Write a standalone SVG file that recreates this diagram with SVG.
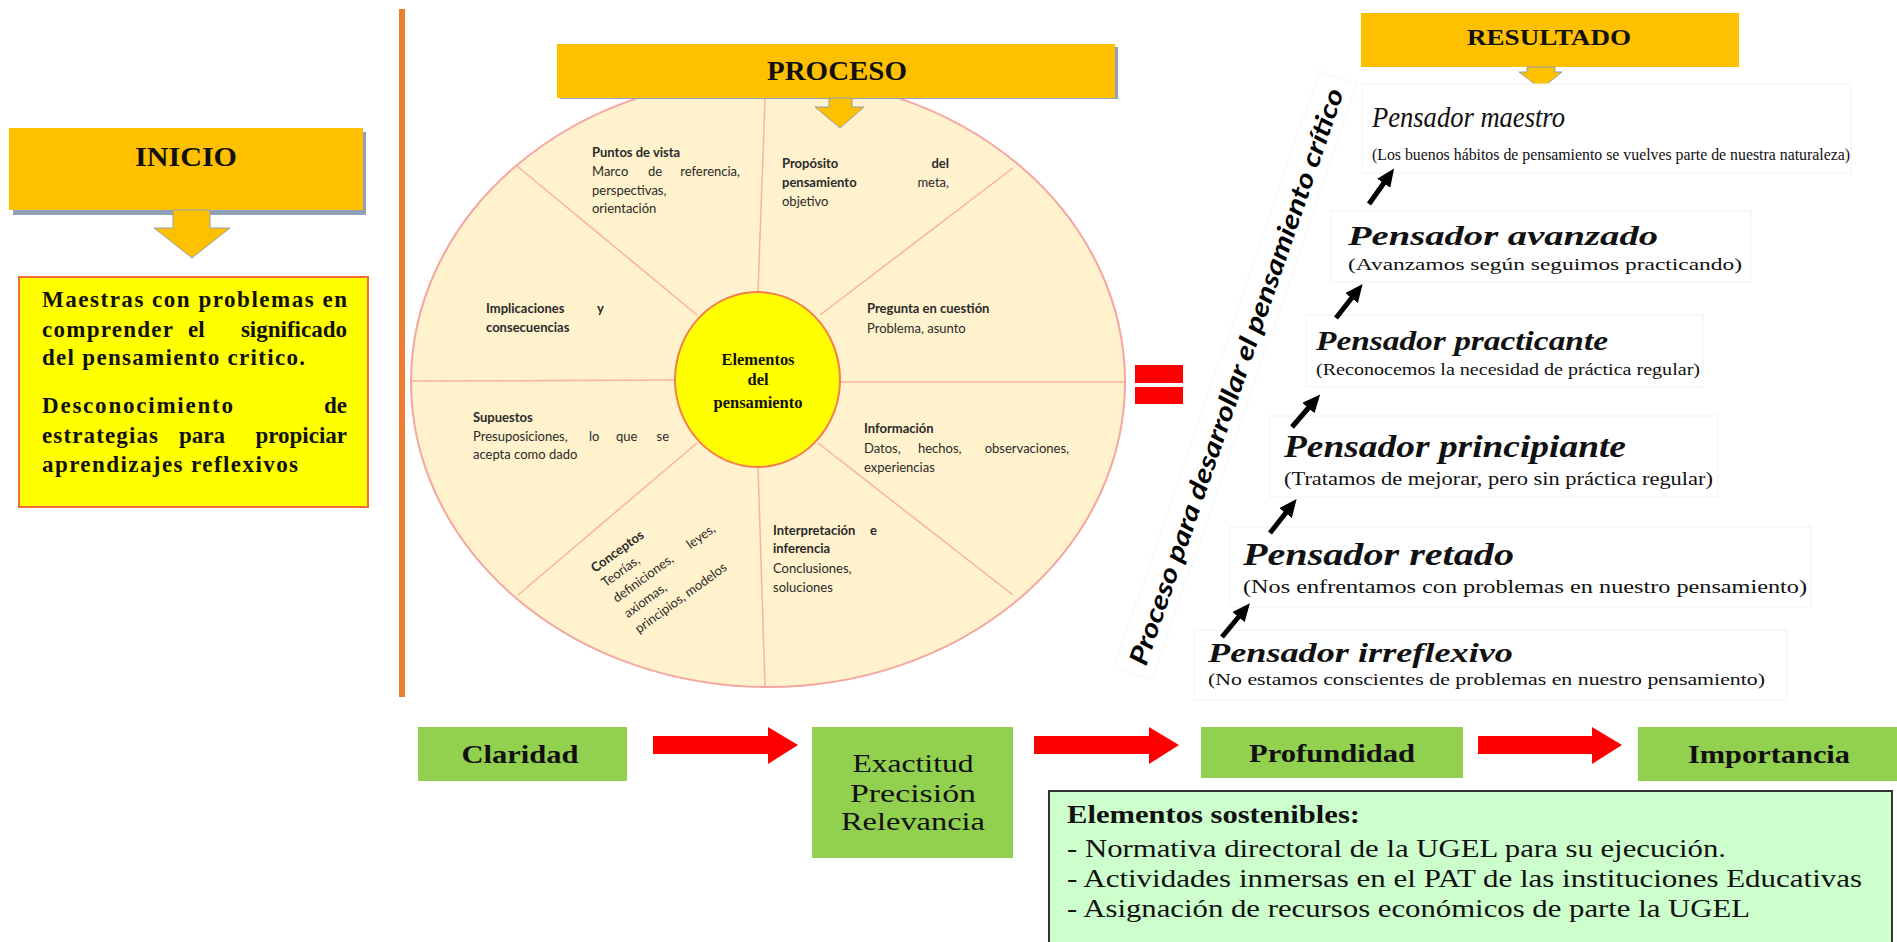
<svg xmlns="http://www.w3.org/2000/svg" width="1897" height="942" viewBox="0 0 1897 942">
<defs>
<style>
.hdr{fill:#FFC000}
.shd{fill:#8FA0B8}
.grn{fill:#92D050}
.ser{font-family:"Liberation Serif","Times New Roman",serif;fill:#111}
.b{font-weight:bold}
.it{font-style:italic}
.seg{font-family:Lato,"Open Sans",sans-serif;font-size:13px;fill:#2a2a2a}
.spoke{stroke:#F7B49C;stroke-width:1.5;fill:none}
.faint{fill:#fff;stroke:#F1F1F1;stroke-width:1}
.red{fill:#FF0000}
.blk{stroke:#000;stroke-width:5;fill:none;marker-end:url(#ah)}
</style>
<marker id="ah" markerUnits="userSpaceOnUse" markerWidth="18" markerHeight="16" refX="4" refY="8" orient="auto">
<path d="M0,0 L18,8 L0,16 Z" fill="#000"/>
</marker>
</defs>
<rect width="1897" height="942" fill="#fff"/>

<line x1="402" y1="9" x2="402" y2="697" stroke="#ED7D31" stroke-width="6"/>

<g id="inicio">
<rect x="13" y="132" width="353" height="83" class="shd"/>
<rect x="9" y="128" width="354" height="82" class="hdr"/>
<path d="M173,210 V228 H154 L192,258 L230,228 H210 V210 Z" class="hdr" stroke="#8FA0B8" stroke-width="1"/>
<text x="186" y="166" class="ser b" font-size="28" text-anchor="middle" textLength="102" lengthAdjust="spacingAndGlyphs">INICIO</text>
</g>

<g id="problema">
<rect x="19" y="277" width="349" height="230" fill="#FFFF00" stroke="#F26B3A" stroke-width="2"/>
<g class="ser b" font-size="23">
<text x="42" y="307" textLength="305" lengthAdjust="spacing">Maestras con problemas en</text>
<text x="42" y="337" textLength="131" lengthAdjust="spacing">comprender</text>
<text x="188" y="337">el</text>
<text x="347" y="337" text-anchor="end">significado</text>
<text x="42" y="365" textLength="263" lengthAdjust="spacing">del pensamiento critico.</text>
<text x="42" y="413" textLength="191" lengthAdjust="spacing">Desconocimiento</text>
<text x="347" y="413" text-anchor="end">de</text>
<text x="42" y="443" textLength="116" lengthAdjust="spacing">estrategias</text>
<text x="179" y="443">para</text>
<text x="347" y="443" text-anchor="end">propiciar</text>
<text x="42" y="472" textLength="256" lengthAdjust="spacing">aprendizajes reflexivos</text>
</g>
</g>

<g id="rueda">
<ellipse cx="768" cy="382" rx="357" ry="305" fill="#FFF2CC" stroke="#F4A6A0" stroke-width="2"/>
<line x1="765" y1="99" x2="758" y2="292" class="spoke"/>
<line x1="517" y1="166" x2="697" y2="315" class="spoke"/>
<line x1="1013" y1="168" x2="820" y2="315" class="spoke"/>
<line x1="412" y1="381" x2="676" y2="380" class="spoke"/>
<line x1="839" y1="382" x2="1124" y2="382" class="spoke"/>
<line x1="697" y1="443" x2="518" y2="595" class="spoke"/>
<line x1="758" y1="467" x2="765" y2="686" class="spoke"/>
<line x1="818" y1="443" x2="1013" y2="595" class="spoke"/>

<g class="seg">
<text x="592" y="157" font-weight="bold">Puntos de vista</text>
<text x="592" y="176">Marco</text><text x="648" y="176">de</text><text x="740" y="176" text-anchor="end">referencia,</text>
<text x="592" y="195">perspectivas,</text>
<text x="592" y="213">orientación</text>

<text x="782" y="168" font-weight="bold">Propósito</text><text x="949" y="168" text-anchor="end" font-weight="bold">del</text>
<text x="782" y="187" font-weight="bold">pensamiento</text><text x="949" y="187" text-anchor="end">meta,</text>
<text x="782" y="206">objetivo</text>

<text x="486" y="313" font-weight="bold">Implicaciones</text><text x="597" y="313" font-weight="bold">y</text>
<text x="486" y="332" font-weight="bold">consecuencias</text>

<text x="867" y="313" font-weight="bold">Pregunta en cuestión</text>
<text x="867" y="333">Problema, asunto</text>

<text x="473" y="422" font-weight="bold">Supuestos</text>
<text x="473" y="441">Presuposiciones,</text><text x="589" y="441">lo</text><text x="616" y="441">que</text><text x="669" y="441" text-anchor="end">se</text>
<text x="473" y="459">acepta como dado</text>

<text x="864" y="433" font-weight="bold">Información</text>
<text x="864" y="453">Datos,</text><text x="918" y="453">hechos,</text><text x="1069" y="453" text-anchor="end">observaciones,</text>
<text x="864" y="472">experiencias</text>

<text x="773" y="535" font-weight="bold">Interpretación</text><text x="877" y="535" text-anchor="end" font-weight="bold">e</text>
<text x="773" y="553" font-weight="bold">inferencia</text>
<text x="773" y="573">Conclusiones,</text>
<text x="773" y="592">soluciones</text>

<g transform="translate(595,573) rotate(-36)">
<text x="0" y="0" font-weight="bold">Conceptos</text>
<text x="0" y="18">Teorías,</text>
<text x="0" y="37">definiciones,</text><text x="123" y="37" text-anchor="end">leyes,</text>
<text x="0" y="56">axiomas,</text>
<text x="0" y="75">principios, modelos</text>
</g>
</g>
</g>

<g id="elementos">
<ellipse cx="757.5" cy="379.5" rx="82.5" ry="87.5" fill="#FFFF00" stroke="#F47F4F" stroke-width="2"/>
<g class="ser b" font-size="17" text-anchor="middle">
<text x="758" y="365" textLength="73" lengthAdjust="spacingAndGlyphs">Elementos</text>
<text x="758" y="385" textLength="21" lengthAdjust="spacingAndGlyphs">del</text>
<text x="758" y="408" textLength="89" lengthAdjust="spacingAndGlyphs">pensamiento</text>
</g>
</g>

<g id="proceso">
<rect x="560" y="47" width="558" height="52" class="shd"/>
<rect x="557" y="44" width="558" height="54" class="hdr"/>
<path d="M829,98 V107 H815 L840,128 L864,107 H852 V98 Z" class="hdr" stroke="#8FA0B8" stroke-width="1"/>
<text x="837" y="80" class="ser b" font-size="27" text-anchor="middle" textLength="140" lengthAdjust="spacingAndGlyphs">PROCESO</text>
</g>

<g id="igual">
<rect x="1135" y="365" width="48" height="18" class="red"/>
<rect x="1135" y="387" width="48" height="17" class="red"/>
</g>

<g id="eje">
<g transform="translate(1146,667) rotate(-71)">
<rect x="-10" y="-30" width="630" height="40" fill="none" stroke="#F5F5F5"/>
<text x="0" y="0" font-family="Lato,'Open Sans',sans-serif" font-size="26" font-weight="bold" font-style="italic" fill="#000" textLength="608" lengthAdjust="spacingAndGlyphs">Proceso para desarrollar el pensamiento crítico</text>
</g>
</g>

<g id="resultado">
<rect x="1361" y="13" width="378" height="54" class="hdr"/>
<path d="M1527,67 V72 H1519 L1541,89 L1562,72 H1555 V67 Z" class="hdr" stroke="#8FA0B8" stroke-width="1"/>
<text x="1549" y="45" class="ser b" font-size="23" text-anchor="middle" textLength="164" lengthAdjust="spacingAndGlyphs">RESULTADO</text>
</g>

<g id="maestro">
<rect x="1362" y="84" width="489" height="89" class="faint"/>
<text x="1372" y="127" class="ser it" font-size="29" textLength="193" lengthAdjust="spacingAndGlyphs">Pensador maestro</text>
<text x="1372" y="160" class="ser" font-size="16" textLength="478" lengthAdjust="spacingAndGlyphs">(Los buenos hábitos de pensamiento se vuelves parte de nuestra naturaleza)</text>
</g>
<g id="avanzado">
<rect x="1331" y="211" width="420" height="71" class="faint"/>
<text x="1348" y="245" class="ser b it" font-size="27" textLength="310" lengthAdjust="spacingAndGlyphs">Pensador avanzado</text>
<text x="1348" y="270" class="ser" font-size="17" textLength="394" lengthAdjust="spacingAndGlyphs">(Avanzamos según seguimos practicando)</text>
</g>
<g id="practicante">
<rect x="1306" y="315" width="397" height="72" class="faint"/>
<text x="1316" y="350" class="ser b it" font-size="27" textLength="292" lengthAdjust="spacingAndGlyphs">Pensador practicante</text>
<text x="1316" y="375" class="ser" font-size="16" textLength="384" lengthAdjust="spacingAndGlyphs">(Reconocemos la necesidad de práctica regular)</text>
</g>
<g id="principiante">
<rect x="1270" y="416" width="448" height="81" class="faint"/>
<text x="1284" y="457" class="ser b it" font-size="31" textLength="342" lengthAdjust="spacingAndGlyphs">Pensador principiante</text>
<text x="1284" y="485" class="ser" font-size="19" textLength="429" lengthAdjust="spacingAndGlyphs">(Tratamos de mejorar, pero sin práctica regular)</text>
</g>
<g id="retado">
<rect x="1230" y="527" width="581" height="80" class="faint"/>
<text x="1243" y="565" class="ser b it" font-size="31" textLength="271" lengthAdjust="spacingAndGlyphs">Pensador retado</text>
<text x="1243" y="593" class="ser" font-size="19" textLength="564" lengthAdjust="spacingAndGlyphs">(Nos enfrentamos con problemas en nuestro pensamiento)</text>
</g>
<g id="irreflexivo">
<rect x="1194" y="630" width="593" height="70" class="faint"/>
<text x="1208" y="662" class="ser b it" font-size="27" textLength="305" lengthAdjust="spacingAndGlyphs">Pensador irreflexivo</text>
<text x="1208" y="685" class="ser" font-size="16" textLength="557" lengthAdjust="spacingAndGlyphs">(No estamos conscientes de problemas en nuestro pensamiento)</text>
</g>

<g id="claridad">
<rect x="418" y="727" width="209" height="54" class="grn"/>
<text x="520" y="763" class="ser b" font-size="26" text-anchor="middle" textLength="117" lengthAdjust="spacingAndGlyphs">Claridad</text>
</g>
<g id="exactitud">
<rect x="812" y="727" width="201" height="131" class="grn"/>
<g class="ser" font-size="25" text-anchor="middle">
<text x="913" y="772" textLength="121" lengthAdjust="spacingAndGlyphs">Exactitud</text>
<text x="913" y="802" textLength="126" lengthAdjust="spacingAndGlyphs">Precisión</text>
<text x="913" y="830" textLength="144" lengthAdjust="spacingAndGlyphs">Relevancia</text>
</g>
</g>
<g id="profundidad">
<rect x="1201" y="727" width="262" height="51" class="grn"/>
<text x="1332" y="762" class="ser b" font-size="25" text-anchor="middle" textLength="166" lengthAdjust="spacingAndGlyphs">Profundidad</text>
</g>
<g id="importancia">
<rect x="1638" y="727" width="259" height="54" class="grn"/>
<text x="1769" y="763" class="ser b" font-size="25" text-anchor="middle" textLength="162" lengthAdjust="spacingAndGlyphs">Importancia</text>
</g>

<g id="sostenibles">
<rect x="1049" y="791" width="843" height="160" fill="#CCFFCC" stroke="#333" stroke-width="2"/>
<g class="ser" font-size="26">
<text x="1067" y="823" font-weight="bold" textLength="293" lengthAdjust="spacingAndGlyphs">Elementos sostenibles:</text>
<text x="1067" y="857" textLength="659" lengthAdjust="spacingAndGlyphs">- Normativa directoral de la UGEL para su ejecución.</text>
<text x="1067" y="887" textLength="795" lengthAdjust="spacingAndGlyphs">- Actividades inmersas en el PAT de las instituciones Educativas</text>
<text x="1067" y="917" textLength="683" lengthAdjust="spacingAndGlyphs">- Asignación de recursos económicos de parte la UGEL</text>
</g>
</g>

<g id="conectores">
<path d="M653,736 H768 V727 L798,745 L768,764 V754 H653 Z" class="red"/>
<path d="M1034,736 H1149 V727 L1179,745 L1149,764 V754 H1034 Z" class="red"/>
<path d="M1478,736 H1592 V727 L1622,745 L1592,764 V754 H1478 Z" class="red"/>
<line x1="1369" y1="204" x2="1386" y2="180" class="blk"/>
<line x1="1336" y1="318" x2="1354" y2="295" class="blk"/>
<line x1="1292" y1="427" x2="1311" y2="405" class="blk"/>
<line x1="1270" y1="533" x2="1288" y2="510" class="blk"/>
<line x1="1222" y1="637" x2="1241" y2="614" class="blk"/>
</g>
</svg>
